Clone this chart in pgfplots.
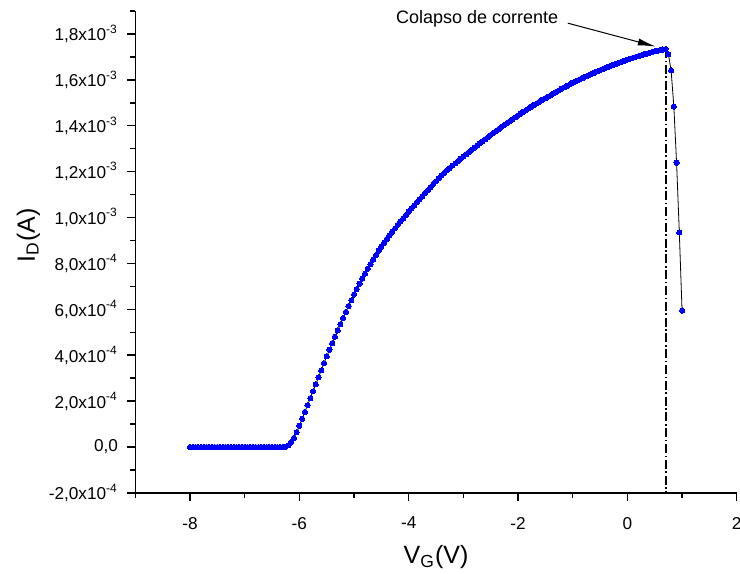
\documentclass[border=0pt]{standalone}
\usepackage{fontspec}
\setmainfont{Liberation Sans}
\usepackage{pgfplots}
\usepackage{pgfplotstable}
\pgfplotsset{compat=1.18}
\usetikzlibrary{arrows.meta}

% I_D in units of 1e-4 A
\pgfplotstableread{
x y
-8.00 0
-7.95 0
-7.90 0
-7.85 0
-7.80 0
-7.75 0
-7.70 0
-7.65 0
-7.60 0
-7.55 0
-7.50 0
-7.45 0
-7.40 0
-7.35 0
-7.30 0
-7.25 0
-7.20 0
-7.15 0
-7.10 0
-7.05 0
-7.00 0
-6.95 0
-6.90 0
-6.85 0
-6.80 0
-6.75 0
-6.70 0
-6.65 0
-6.60 0
-6.55 0
-6.50 0
-6.45 0
-6.40 0
-6.35 0
-6.30 0
-6.25 0.01
-6.20 0.08
-6.15 0.22
-6.10 0.40
-6.05 0.64
-6.00 0.93
-5.95 1.23
-5.90 1.53
-5.85 1.83
-5.80 2.13
-5.75 2.43
-5.70 2.73
-5.65 3.04
-5.60 3.34
-5.55 3.65
-5.50 3.95
-5.45 4.24
-5.40 4.525
-5.35 4.805
-5.30 5.08
-5.25 5.35
-5.20 5.62
-5.15 5.885
-5.10 6.145
-5.05 6.40
-5.00 6.65
-4.95 6.885
-4.90 7.115
-4.85 7.34
-4.80 7.555
-4.75 7.765
-4.70 7.97
-4.65 8.17
-4.60 8.365
-4.55 8.55
-4.50 8.73
-4.45 8.90
-4.40 9.065
-4.35 9.225
-4.30 9.38
-4.25 9.53
-4.20 9.68
-4.15 9.825
-4.10 9.97
-4.05 10.11
-4.00 10.25
-3.95 10.39
-3.90 10.53
-3.85 10.665
-3.80 10.80
-3.75 10.935
-3.70 11.065
-3.65 11.195
-3.60 11.325
-3.55 11.46
-3.50 11.585
-3.45 11.71
-3.40 11.83
-3.35 11.945
-3.30 12.055
-3.25 12.16
-3.20 12.263
-3.15 12.364
-3.10 12.464
-3.05 12.562
-3.00 12.66
-2.95 12.757
-2.90 12.853
-2.85 12.948
-2.80 13.042
-2.75 13.136
-2.70 13.229
-2.65 13.322
-2.60 13.415
-2.55 13.507
-2.50 13.60
-2.45 13.689
-2.40 13.777
-2.35 13.864
-2.30 13.95
-2.25 14.035
-2.20 14.12
-2.15 14.204
-2.10 14.287
-2.05 14.369
-2.00 14.45
-1.95 14.53
-1.90 14.609
-1.85 14.686
-1.80 14.762
-1.75 14.837
-1.70 14.912
-1.65 14.986
-1.60 15.058
-1.55 15.129
-1.50 15.20
-1.45 15.27
-1.40 15.339
-1.35 15.407
-1.30 15.475
-1.25 15.542
-1.20 15.609
-1.15 15.675
-1.10 15.741
-1.05 15.806
-1.00 15.87
-0.95 15.929
-0.90 15.987
-0.85 16.044
-0.80 16.10
-0.75 16.155
-0.70 16.21
-0.65 16.264
-0.60 16.317
-0.55 16.369
-0.50 16.42
-0.45 16.47
-0.40 16.519
-0.35 16.567
-0.30 16.614
-0.25 16.66
-0.20 16.706
-0.15 16.751
-0.10 16.795
-0.05 16.838
0.00 16.88
0.05 16.92
0.10 16.959
0.15 16.997
0.20 17.034
0.25 17.07
0.30 17.106
0.35 17.141
0.40 17.175
0.45 17.208
0.50 17.24
0.55 17.27
0.60 17.30
0.65 17.325
0.70 17.345
0.75 17.12
0.80 16.41
0.85 14.83
0.90 12.39
0.95 9.35
1.00 5.95
}\datatable

\begin{document}
\begin{tikzpicture}
\begin{axis}[name=ax,
  scale only axis, width=300.7pt, height=241pt,
  xmin=-9, xmax=2, ymin=-2, ymax=19,
  axis lines=left, axis line style={-, line width=0.75pt, black},
  xtick={-8,-6,-4,-2,0,2}, xticklabels={-8,-6,-4,-2,0,2},
  minor xtick={-9,-7,-5,-3,-1,1},
  ytick={-2,0,2,4,6,8,10,12,14,16,18},
  yticklabels={{-2,0x10\textsuperscript{-4}},{0,0},{2,0x10\textsuperscript{-4}},{4,0x10\textsuperscript{-4}},{6,0x10\textsuperscript{-4}},{8,0x10\textsuperscript{-4}},{1,0x10\textsuperscript{-3}},{1,2x10\textsuperscript{-3}},{1,4x10\textsuperscript{-3}},{1,6x10\textsuperscript{-3}},{1,8x10\textsuperscript{-3}}},
  minor ytick={-1,1,3,5,7,9,11,13,15,17,19},
  tick align=outside, major tick length=4pt, minor tick length=2.5pt,
  every tick/.style={line width=0.75pt, black},
  ticklabel style={font=\fontsize{8.6}{10}\selectfont},
  xticklabel style={yshift=-4.5pt},
  yticklabel style={xshift=-1.2pt},
  xlabel={V\textsubscript{G}(V)},
  ylabel={I\textsubscript{D}(A)},
  label style={font=\fontsize{12.5}{15}\selectfont},
  xlabel style={at={(axis description cs:0.5,-0.133)}, anchor=center},
  ylabel style={at={(axis description cs:-0.178,0.535)}, anchor=center},
  clip=false,
]
\addplot[black, line width=0.4pt, mark=*, mark size=1.3pt,
  mark options={draw=blue, fill=blue, line width=0pt}] table[x=x, y=y] {\datatable};
\addplot[black, line width=0.9pt, dash pattern=on 4.5pt off 1.3pt on 0.8pt off 1.3pt, mark=none]
  coordinates {(0.70,17.345) (0.70,-2)};
\draw[-{Latex[length=9pt,width=3.5pt]}, line width=0.5pt] (axis cs:-1.09,18.47) -- (axis cs:0.52,17.45);
\node[font=\fontsize{9}{10.8}\selectfont] at (axis cs:-2.75,18.65) {Colapso de corrente};
\end{axis}
\pgfresetboundingbox
\path[use as bounding box] ([xshift=-67.7pt,yshift=-40.5pt]ax.south west) rectangle ([xshift=1.65pt,yshift=5.5pt]ax.north east);
\end{tikzpicture}
\end{document}
